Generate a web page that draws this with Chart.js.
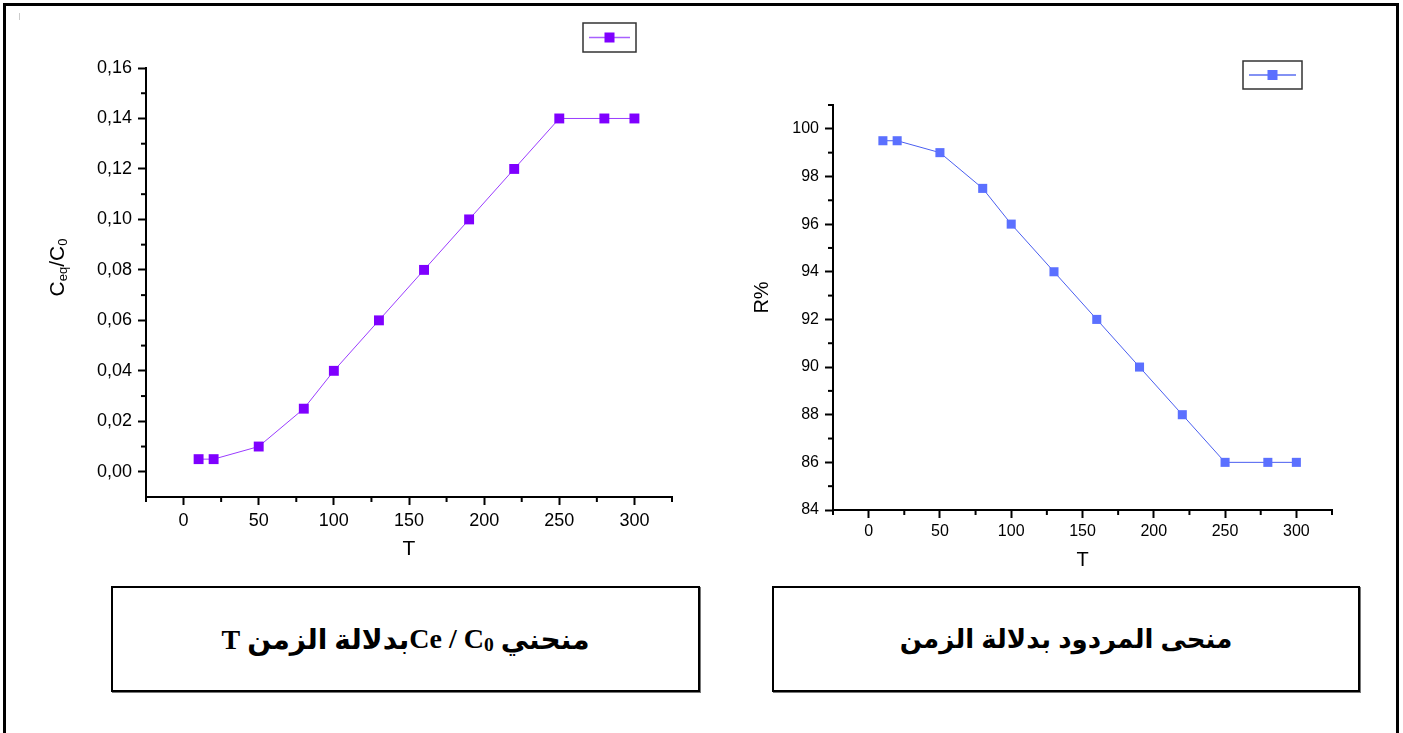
<!DOCTYPE html>
<html>
<head>
<meta charset="utf-8">
<script src="https://cdn.jsdelivr.net/npm/chart.js"></script>
<style>
  html, body { margin: 0; padding: 0; background: #fff; width: 1403px; height: 733px; overflow: hidden; }
  #frame { position: absolute; left: 3px; top: 3px; width: 1396px; height: 760px; border: 3px solid #000; box-sizing: border-box; }
  #mark { position: absolute; left: 19px; top: 13px; width: 1px; height: 7px; background: #ccc; }
  canvas { position: absolute; top: 0; }
  #c1 { left: 0; }
  #c2 { left: 700px; }
  .cap {
    position: absolute; top: 586px; height: 106px; box-sizing: border-box;
    border: 2px solid #000; box-shadow: 1px 1px 0 #777;
    display: flex; align-items: center; justify-content: center;
    font-weight: bold; color: #000;
  }
  #cap1 { left: 111px; width: 589px; font-size: 28px; font-family: "Liberation Serif", "DejaVu Sans", serif; }
  #cap2 { left: 772px; width: 588px; font-size: 26px; font-family: "Liberation Sans", "DejaVu Sans", sans-serif; }
  .cap sub { font-size: 0.7em; vertical-align: -0.15em; }
  .ltr { unicode-bidi: isolate; }
</style>
</head>
<body>
<div id="frame"></div>
<div id="mark"></div>
<canvas id="c1" width="700" height="580"></canvas>
<canvas id="c2" width="703" height="580"></canvas>
<div class="cap" id="cap1" dir="rtl">منحني&nbsp; <span class="ltr" dir="ltr">Ce / C<sub>0</sub></span>بدلالة الزمن T</div>
<div class="cap" id="cap2" dir="rtl">منحى المردود بدلالة الزمن</div>
<script>
// valeurs
const T_VALUES = [10, 20, 50, 80, 100, 130, 160, 190, 220, 250, 280, 300];
const CE_C0 = [0.005, 0.005, 0.01, 0.025, 0.04, 0.06, 0.08, 0.10, 0.12, 0.14, 0.14, 0.14];
const R_PCT = [99.5, 99.5, 99, 97.5, 96, 94, 92, 90, 88, 86, 86, 86];

const X_TICKS = [0, 50, 100, 150, 200, 250, 300];
const X_MINOR = [-25, 25, 75, 125, 175, 225, 275, 325];
const CE_TICKS = [0, 0.02, 0.04, 0.06, 0.08, 0.10, 0.12, 0.14, 0.16];
const CE_MINOR = [0.01, 0.03, 0.05, 0.07, 0.09, 0.11, 0.13, 0.15];
const R_TICKS = [84, 86, 88, 90, 92, 94, 96, 98, 100];
const R_MINOR = [85, 87, 89, 91, 93, 95, 97, 99, 101];

const FONT = "'Liberation Sans', Arial, sans-serif";

function pts(ys) {
  return T_VALUES.map((x, i) => ({ x, y: ys[i] }));
}

function line(ctx, x1, y1, x2, y2) {
  ctx.beginPath(); ctx.moveTo(x1, y1); ctx.lineTo(x2, y2); ctx.stroke();
}

// ticks mineurs, titres d'axes et petite légende façon Origin
const decor = {
  id: "decor",
  afterDraw(chart, args, o) {
    const ctx = chart.ctx, a = chart.chartArea;
    const xs = chart.scales.x, ys = chart.scales.y;
    ctx.save();
    ctx.strokeStyle = "#000";
    ctx.lineWidth = 2;
    o.xMinor.forEach(v => { const p = xs.getPixelForValue(v); line(ctx, p, a.bottom, p, a.bottom + o.minorLen); });
    o.yMinor.forEach(v => { const p = ys.getPixelForValue(v); line(ctx, a.left, p, a.left - o.minorLen, p); });

    ctx.fillStyle = "#000";
    ctx.textAlign = "center";
    ctx.textBaseline = "middle";
    ctx.font = o.titleSize + "px " + FONT;
    ctx.fillText(o.xTitle, (a.left + a.right) / 2, a.bottom + o.xTitleGap);

    // titre y en morceaux (indices)
    ctx.translate(a.left - o.yTitleGap, (a.top + a.bottom) / 2 + o.yTitleShift);
    ctx.rotate(-Math.PI / 2);
    ctx.textAlign = "left";
    let w = 0;
    o.yTitle.forEach(p => { ctx.font = p.size + "px " + FONT; w += ctx.measureText(p.t).width; });
    let cx = -w / 2;
    o.yTitle.forEach(p => {
      ctx.font = p.size + "px " + FONT;
      ctx.fillText(p.t, cx, p.dy || 0);
      cx += ctx.measureText(p.t).width;
    });
    ctx.restore();

    const L = o.legend;
    ctx.save();
    ctx.fillStyle = "#fff";
    ctx.fillRect(L.x, L.y, L.w, L.h);
    ctx.strokeStyle = "#333";
    ctx.lineWidth = 1.5;
    ctx.strokeRect(L.x, L.y, L.w, L.h);
    ctx.strokeStyle = L.line;
    ctx.lineWidth = 1.5;
    const my = L.y + L.h / 2;
    line(ctx, L.x + 6, my, L.x + L.w - 6, my);
    ctx.fillStyle = L.marker;
    ctx.fillRect(L.x + L.w / 2 - 5, my - 5, 10, 10);
    ctx.restore();
  }
};

function axes(yMin, yMax, yTicks, fmt, yWidth, xHeight, fontSize, labelPad) {
  const common = {
    grid: { drawOnChartArea: false, drawTicks: true, tickLength: 8, tickWidth: 2, tickColor: "#000" },
    border: { display: true, color: "#000", width: 2 }
  };
  return {
    x: {
      type: "linear", min: -25, max: 325, ...common,
      afterBuildTicks: s => { s.ticks = X_TICKS.map(v => ({ value: v })); },
      afterFit: s => { s.height = xHeight; },
      ticks: { color: "#000", font: { family: FONT, size: fontSize }, padding: labelPad, maxRotation: 0 }
    },
    y: {
      min: yMin, max: yMax, ...common,
      afterBuildTicks: s => { s.ticks = yTicks.map(v => ({ value: v })); },
      afterFit: s => { s.width = yWidth; },
      ticks: { color: "#000", font: { family: FONT, size: fontSize }, padding: 6, callback: fmt }
    }
  };
}

function makeChart(id, values, colors, cfg) {
  return new Chart(document.getElementById(id), {
    type: "line",
    data: {
      datasets: [{
        data: pts(values),
        borderColor: colors.line, borderWidth: 1, tension: 0,
        pointStyle: "rect", pointRadius: cfg.pointR, pointHoverRadius: cfg.pointR,
        pointBackgroundColor: colors.marker, pointBorderColor: colors.marker, pointBorderWidth: 0
      }]
    },
    options: {
      responsive: false, animation: false, events: [],
      layout: { padding: cfg.padding },
      plugins: { legend: { display: false }, tooltip: { enabled: false }, decor: cfg.decor },
      scales: cfg.scales
    },
    plugins: [decor]
  });
}

makeChart("c1", CE_C0, { line: "#9a3cff", marker: "#7f00ff" }, {
  pointR: 7,
  padding: { top: 68, right: 28, left: 0, bottom: 0 },
  scales: axes(-0.01, 0.16, CE_TICKS, v => v.toFixed(2).replace(".", ","), 146, 83, 18, 5),
  decor: {
    xMinor: X_MINOR, yMinor: CE_MINOR, minorLen: 5,
    xTitle: "T", xTitleGap: 52, titleSize: 21,
    yTitle: [{ t: "C", size: 21 }, { t: "eq", size: 13, dy: 5 }, { t: "/C", size: 21 }, { t: "0", size: 13, dy: 5 }],
    yTitleGap: 88, yTitleShift: -15,
    legend: { x: 583, y: 23, w: 53, h: 29, line: "#a860ff", marker: "#7f00ff" }
  }
});

makeChart("c2", R_PCT, { line: "#4a5ef0", marker: "#5b70ff" }, {
  pointR: 6.4,
  padding: { top: 105, right: 71, left: 0, bottom: 0 },
  scales: axes(84, 101, R_TICKS, v => String(v), 133, 70, 16, 4),
  decor: {
    xMinor: X_MINOR, yMinor: R_MINOR, minorLen: 5,
    xTitle: "T", xTitleGap: 50, titleSize: 20,
    yTitle: [{ t: "R%", size: 20 }],
    yTitleGap: 71, yTitleShift: -10,
    legend: { x: 543, y: 61, w: 59, h: 28, line: "#5a6ef0", marker: "#5b70ff" }
  }
});
</script>
</body>
</html>
